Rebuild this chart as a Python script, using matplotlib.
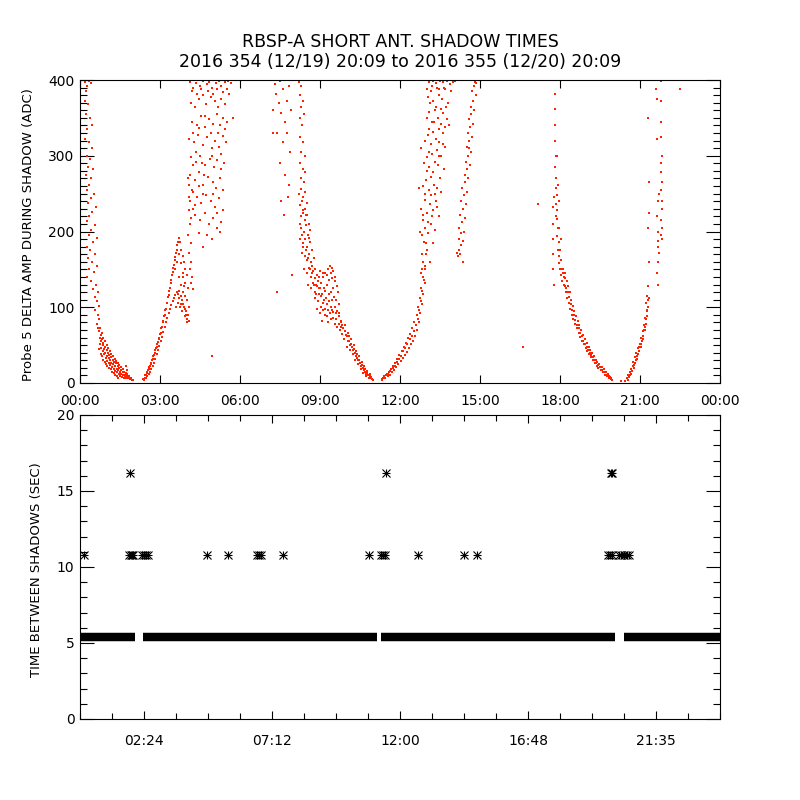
import numpy as np
import matplotlib
matplotlib.use('Agg')
import matplotlib.pyplot as plt
from matplotlib.ticker import MultipleLocator

plt.rcParams['font.family'] = ['DejaVu Sans']

title_1 = 'RBSP-A SHORT ANT. SHADOW TIMES'
title_2 = '2016 354 (12/19) 20:09 to 2016 355 (12/20) 20:09'

# top panel: probe 5 delta amp during shadow, (hours from start, ADC)
shadow_a_upper = [(0.19,398),(0.22,385),(0.28,392),(0.35,399),(0.42,396),(0.2,372),(0.3,368),(0.24,355),
    (0.38,350),(0.44,340),(0.27,335),(0.2,322),(0.33,318),(0.45,310),(0.25,300),(0.38,296),(0.3,285),
    (0.5,282),(0.22,275),(0.42,270),(0.34,262),(0.28,255),(0.52,250),(0.4,244),(0.3,238),(0.6,232),
    (0.45,226),(0.35,220),(0.27,214),(0.55,208),(0.4,202),(0.32,196),(0.62,192),(0.48,186),(0.27,180),
    (0.38,175),(0.58,170),(0.3,165),(0.45,160),(0.62,155),(0.35,150),(0.52,146),(0.28,140),(0.42,134),
    (0.6,130),(0.48,124),(0.66,120),(0.55,114),(0.62,108),(0.7,102),(0.58,96),(0.67,90),(0.72,84),
    (0.63,78),(0.69,73)]
shadow_a_lower = [(0.72,68),(0.75,60),(0.74,52),(0.78,64),(0.8,55),(0.8,46),(0.83,58),(0.85,50),(0.85,42),
    (0.88,53),(0.9,45),(0.9,38),(0.93,48),(0.95,40),(0.96,33),(1.0,44),(1.0,36),(1.02,29),(1.05,40),
    (1.07,33),(1.08,26),(1.1,37),(1.12,30),(1.14,24),(1.17,34),(1.18,27),(1.2,21),(1.22,31),(1.25,25),
    (1.26,18),(1.29,28),(1.3,22),(1.32,16),(1.35,26),(1.37,19),(1.38,14),(1.41,23),(1.43,17),(1.45,12),
    (1.47,20),(1.49,14),(1.5,9),(1.53,17),(1.55,12),(1.57,8),(1.6,14),(1.62,10),(1.64,7),(1.67,11),
    (1.7,8),(1.72,6),(1.74,22),(1.75,17),(1.76,12),(1.77,8),(1.8,6),(1.83,9),(1.86,5),(1.9,5),(1.95,4),
    (1.99,4),(0.73,45),(0.77,38),(0.82,35),(0.87,30),(0.92,28),(0.97,25),(1.03,22),(1.09,20),(1.15,18),
    (1.21,15),(1.27,13),(1.33,11),(1.39,9),(1.44,7),(0.76,72),(0.82,66),(0.88,60),(0.94,55),(1.0,50),
    (1.06,46),(1.12,42),(1.18,38),(1.24,35),(1.3,32),(1.36,29),(1.42,26),(1.48,24),(1.54,21),(1.6,18),
    (1.66,15),(1.72,13),(1.78,11),(1.84,7),(1.92,6)]
shadow_b_rise = [(2.37,5),(2.42,7),(2.45,10),(2.48,6),(2.5,13),(2.53,9),(2.55,17),(2.58,12),(2.6,21),
    (2.62,15),(2.65,25),(2.67,19),(2.7,30),(2.72,23),(2.75,35),(2.77,27),(2.8,40),(2.82,32),(2.85,46),
    (2.87,38),(2.9,52),(2.92,43),(2.95,58),(2.97,49),(3.0,65),(3.02,55),(3.05,72),(3.07,61),(3.1,80),
    (3.12,67),(3.15,88),(3.17,74),(3.2,96),(3.22,80),(3.25,105),(3.27,86),(3.3,114),(3.32,92),(3.35,122),
    (3.37,98),(3.4,132),(3.42,103),(3.45,142),(3.47,108),(3.5,152),(3.52,112),(3.55,162),(3.57,116),
    (3.6,172),(3.62,120),(3.65,182),(3.67,118),(3.7,192),(3.72,122),(3.75,186),(3.77,115),(3.8,176),
    (3.82,110),(3.85,168),(3.87,104),(3.9,160),(3.92,98),(3.95,150),(3.97,90),(4.0,142),(4.02,84),
    (3.58,150),(3.65,160),(3.72,170),(3.8,158),(3.88,145),(3.95,132),(4.05,125),(3.7,140),(3.78,130),
    (3.85,120),(4.0,110),(4.08,100),(3.6,100),(3.68,105),(3.76,100),(3.84,95),(3.92,88),(4.0,80),
    (2.4,4),(2.47,11),(2.52,15),(2.57,19),(2.63,23),(2.68,27),(2.73,32),(2.78,37),(2.83,43),(2.88,48),
    (2.93,54),(2.98,60),(3.03,66),(3.08,74),(3.13,82),(3.18,90),(3.23,98),(3.28,106),(3.33,116),
    (3.38,126),(3.43,136),(3.48,146),(3.53,156),(3.58,166),(3.63,176),(3.68,186),(3.85,140),(3.9,128),
    (3.95,115),(3.7,112),(3.8,104),(3.9,100),(3.98,95),(4.05,90),(4.1,82)]
shadow_b_bridge = [(4.05,270),(4.08,245),(4.1,228),(4.12,210),(4.06,196),(4.15,185),(4.1,172),(4.18,160),
    (4.12,150),(4.2,140),(4.15,132),(4.22,124),(4.08,262),(4.2,255),(4.14,240),(4.25,230),(4.18,218)]
shadow_c_scatter = [(4.12,398),(4.2,385),(4.35,396),(4.5,392),(4.62,399),(4.75,395),(4.85,398),(4.95,390),
    (5.1,396),(5.2,399),(5.3,392),(5.42,397),(5.55,399),(5.68,396),(4.15,370),(4.3,365),(4.45,375),
    (4.6,380),(4.72,368),(4.9,377),(5.05,372),(5.18,365),(5.3,375),(5.45,368),(5.6,382),(4.2,345),
    (4.38,340),(4.55,352),(4.68,338),(4.82,348),(5.0,342),(5.12,355),(5.25,340),(5.38,350),(5.5,345),
    (4.1,322),(4.28,318),(4.42,328),(4.6,314),(4.78,325),(4.95,310),(5.08,320),(5.22,312),(5.35,326),
    (5.48,318),(4.18,298),(4.35,292),(4.5,300),(4.7,288),(4.88,296),(5.02,285),(5.15,295),(5.28,282),
    (5.4,290),(4.12,275),(4.3,268),(4.48,278),(4.62,262),(4.8,272),(4.98,265),(5.1,258),(5.25,270),
    (5.38,255),(4.22,252),(4.4,245),(4.55,238),(4.72,248),(4.9,240),(5.05,232),(5.2,244),(5.35,228),
    (4.32,222),(4.5,215),(4.68,225),(4.85,210),(5.0,218),(5.15,205),(5.3,212),(4.45,198),(4.75,196),
    (4.95,190),(5.25,200),(4.6,180),(5.74,350),(4.95,36),(4.25,390),(4.4,382),(4.55,388),(4.8,385),
    (5.0,382),(5.15,388),(5.35,384),(5.5,388),(4.25,330),(4.48,336),(4.7,352),(4.9,330),(5.18,330),
    (5.42,335),(4.35,305),(4.58,290),(4.95,300),(5.3,302),(4.25,288),(4.65,275),(5.0,250),(4.45,260),
    (4.3,235),(4.6,250),(5.12,225)]
shadow_d_sparse = [(7.22,360),(7.3,395),(7.35,382),(7.45,370),(7.5,399),(7.55,356),(7.62,388),(7.7,345),
    (7.75,372),(7.82,392),(7.9,360),(7.4,330),(7.6,318),(7.78,330),(7.88,305),(7.5,290),(7.7,275),
    (7.85,262),(7.55,240),(7.8,246),(7.65,222),(7.37,120),(7.95,143),(7.25,330)]
shadow_d_top = [(8.22,398),(8.25,380),(8.3,392),(8.28,365),(8.35,372),(8.24,350),(8.32,340),(8.4,355),
    (8.26,325),(8.36,318),(8.3,305),(8.42,300),(8.25,290),(8.35,282),(8.28,270),(8.4,265),(8.45,278)]
shadow_d_mid = [(8.22,250),(8.3,256),(8.38,245),(8.45,252),(8.25,235),(8.33,240),(8.42,230),(8.5,238),
    (8.28,220),(8.36,225),(8.44,215),(8.52,222),(8.58,210),(8.3,205),(8.4,200),(8.48,208),(8.56,196),
    (8.64,202),(8.26,190),(8.35,185),(8.45,190),(8.53,180),(8.62,186),(8.7,175),(8.32,172),(8.42,168),
    (8.5,162),(8.6,170),(8.68,160),(8.76,165),(8.4,150),(8.5,145),(8.58,152),(8.66,140),(8.74,148),
    (8.82,138),(8.55,130),(8.65,125),(8.72,132),(8.8,120),(8.88,128),(8.95,118),(8.25,210),(8.32,195),
    (8.38,180),(8.46,175),(8.55,165),(8.62,150),(8.7,145),(8.78,130),(8.86,118),(8.35,228),(8.48,222),
    (8.6,192),(8.7,155)]
shadow_d_low = [(8.8,150),(8.9,142),(9.0,148),(9.1,140),(9.2,145),(9.3,150),(9.38,155),(9.45,152),(9.5,148),
    (8.85,130),(8.95,126),(9.05,132),(9.15,125),(9.25,130),(9.35,136),(9.45,138),(9.55,134),(9.62,128),
    (8.82,112),(8.92,108),(9.02,115),(9.12,105),(9.22,112),(9.32,118),(9.42,120),(9.52,114),(9.6,110),
    (9.7,104),(8.9,98),(9.0,92),(9.1,96),(9.2,90),(9.3,96),(9.4,100),(9.5,94),(9.6,92),(9.7,88),
    (9.78,82),(9.3,80),(9.4,85),(9.55,78),(9.65,74),(9.75,70),(9.45,110),(9.68,120),(9.58,140),
    (9.2,122),(9.08,82),(8.92,135),(9.0,125),(9.08,118),(9.15,110),(9.25,104),(9.35,108),(9.45,96),
    (9.55,100),(9.65,95),(9.72,92),(9.05,100),(9.18,98),(9.28,88),(9.38,92),(9.48,86),(9.6,84),
    (9.7,78),(9.8,74),(8.95,140),(9.12,145),(9.28,142),(9.4,145),(9.5,125)]
shadow_d_tail = [(9.8,80),(9.82,65),(9.88,72),(9.9,58),(9.95,76),(10.0,62),(10.02,48),(10.06,66),(10.1,55),
    (10.12,44),(10.16,58),(10.2,48),(10.22,38),(10.26,50),(10.3,40),(10.32,31),(10.36,42),(10.4,33),
    (10.42,25),(10.46,35),(10.5,26),(10.52,18),(10.56,28),(10.6,20),(10.62,13),(10.66,22),(10.7,15),
    (10.72,9),(10.76,16),(10.8,10),(10.84,7),(10.88,12),(10.9,6),(10.95,5),(11.0,4),(9.84,76),(9.92,68),
    (9.98,64),(10.04,56),(10.1,62),(10.14,50),(10.18,52),(10.24,44),(10.28,45),(10.34,36),(10.38,38),
    (10.44,30),(10.48,31),(10.54,23),(10.58,24),(10.64,17),(10.68,18),(10.74,12),(10.78,13),(10.86,9),
    (10.93,8)]
shadow_e_rise = [(11.31,5),(11.36,6),(11.4,9),(11.45,7),(11.5,12),(11.54,9),(11.58,15),(11.62,11),(11.66,19),
    (11.7,14),(11.74,23),(11.78,17),(11.82,27),(11.86,21),(11.9,32),(11.94,25),(11.98,37),(12.02,29),
    (12.06,42),(12.1,33),(12.14,47),(12.18,37),(12.22,53),(12.26,41),(12.3,59),(12.34,46),(12.38,65),
    (12.42,51),(12.46,72),(12.5,56),(12.54,80),(12.58,62),(12.62,90),(12.64,70),(12.68,100),(12.7,80),
    (12.74,112),(12.76,92),(12.8,125),(12.82,104),(12.86,140),(12.88,118),(12.92,155),(12.94,132),
    (12.96,170),(12.9,186),(11.33,4),(11.42,6),(11.48,10),(11.56,12),(11.64,16),(11.72,20),(11.8,23),
    (11.88,28),(11.96,32),(12.04,36),(12.12,42),(12.2,46),(12.28,52),(12.36,58),(12.44,62),(12.52,68),
    (12.6,76),(12.66,85),(12.72,96),(12.78,108),(12.84,122),(12.9,136),(12.94,150),(12.98,185),
    (12.88,160),(12.82,150)]
shadow_e_scatter = [(12.75,200),(12.85,215),(12.95,205),(13.05,198),(13.15,210),(13.3,202),(12.8,230),
    (12.92,242),(13.02,225),(13.12,236),(13.22,228),(13.35,240),(13.45,220),(12.85,260),(12.98,268),
    (13.08,255),(13.18,272),(13.28,262),(13.4,258),(13.5,270),(12.9,290),(13.0,298),(13.1,285),
    (13.2,302),(13.32,292),(13.42,288),(13.55,300),(12.95,320),(13.05,328),(13.15,315),(13.25,332),
    (13.35,322),(13.48,318),(13.6,330),(13.7,312),(13.0,350),(13.1,358),(13.2,345),(13.3,360),
    (13.42,350),(13.52,342),(13.62,356),(13.75,348),(13.05,378),(13.15,385),(13.25,372),(13.38,390),
    (13.48,380),(13.58,375),(13.7,388),(13.8,370),(13.1,398),(13.22,399),(13.35,396),(13.5,399),
    (13.62,397),(13.75,399),(13.88,395),(14.0,398),(14.08,399),(13.12,160),(13.0,175),(12.82,170),
    (12.78,145),(13.25,185),(12.72,258),(12.78,310),(13.85,340),(13.66,282),(13.38,232),(13.55,252),
    (13.0,388),(13.2,392),(13.45,388),(13.65,390),(13.9,385),(13.12,370),(13.35,365),(13.55,362),
    (13.72,365),(13.08,335),(13.28,345),(13.45,335),(13.68,338),(13.1,305),(13.38,308),(13.6,315),
    (13.02,280),(13.25,278),(13.45,300),(12.92,250),(13.15,248),(13.3,250),(12.88,222),(13.05,212),
    (13.2,220),(12.82,195)]
shadow_f = [(14.18,168),(14.22,176),(14.26,170),(14.3,182),(14.2,190),(14.28,198),(14.35,188),(14.22,205),
    (14.32,212),(14.4,200),(14.26,222),(14.36,230),(14.44,218),(14.3,240),(14.4,248),(14.48,236),
    (14.34,258),(14.45,265),(14.52,252),(14.42,275),(14.5,282),(14.56,270),(14.48,292),(14.55,300),
    (14.62,288),(14.52,312),(14.6,320),(14.66,305),(14.55,330),(14.64,338),(14.7,325),(14.6,348),
    (14.68,355),(14.74,342),(14.66,365),(14.72,372),(14.78,360),(14.7,385),(14.78,392),(14.84,380),
    (14.8,398),(14.86,396),(14.6,310),(14.12,172),(14.35,160)]
shadow_lone = [(16.63,48),(17.19,236),(22.5,388)]
shadow_g_top = [(17.72,232),(17.74,210),(17.73,190),(17.75,170),(17.74,150),(17.76,130),(17.78,245),
    (17.8,382),(17.82,362),(17.83,340),(17.8,320),(17.84,300),(17.82,285),(17.86,270),(17.84,258),
    (17.88,248),(17.86,236),(17.9,228),(17.88,216),(17.92,205),(17.9,194),(17.95,186),(17.93,175),
    (17.98,168),(17.96,158),(18.0,150),(18.04,162),(18.03,142),(18.07,135),(18.06,150),(17.85,220),
    (17.95,205),(18.0,176),(17.92,262),(17.87,300),(18.02,190),(18.1,145),(17.98,240)]
shadow_g_band = [(18.12,150),(18.15,140),(18.18,128),(18.2,145),(18.22,120),(18.25,135),(18.28,112),
    (18.3,128),(18.33,106),(18.36,120),(18.38,98),(18.42,110),(18.45,90),(18.48,102),(18.5,84),
    (18.54,95),(18.57,78),(18.6,88),(18.63,72),(18.67,82),(18.7,66),(18.73,76),(18.76,61),(18.8,70),
    (18.83,56),(18.86,64),(18.9,51),(18.93,58),(18.96,46),(19.0,53),(19.03,42),(19.07,48),(19.1,38),
    (19.14,43),(19.17,34),(19.2,39),(19.24,30),(19.27,35),(19.3,27),(19.34,31),(19.37,23),(19.4,28),
    (19.44,20),(19.48,25),(19.52,17),(19.56,21),(19.6,14),(19.64,18),(19.68,11),(19.72,15),(19.76,9),
    (19.8,12),(19.84,7),(19.88,8),(19.92,5),(19.95,4),(18.14,130),(18.19,138),(18.24,125),(18.29,120),
    (18.34,114),(18.4,104),(18.46,97),(18.52,90),(18.58,83),(18.64,77),(18.7,72),(18.76,66),(18.82,62),
    (18.88,56),(18.94,52),(19.0,47),(19.06,43),(19.12,39),(19.18,37),(19.24,34),(19.3,31),(19.36,27),
    (19.42,24),(19.5,21),(19.58,17),(19.66,14),(19.74,11),(19.82,9),(19.9,6)]
shadow_h_rise = [(20.27,2),(20.45,2),(20.52,6),(20.56,10),(20.6,8),(20.64,14),(20.68,18),(20.66,12),
    (20.72,22),(20.75,28),(20.78,24),(20.8,34),(20.84,30),(20.86,40),(20.9,36),(20.92,46),(20.96,42),
    (21.0,52),(21.02,48),(21.05,60),(21.08,56),(21.1,68),(21.12,62),(21.15,76),(21.18,70),(21.2,86),
    (21.22,78),(21.25,95),(21.24,105),(21.28,88),(21.3,100),(21.32,112),(20.55,4),(20.62,11),(20.7,16),
    (20.76,20),(20.82,26),(20.88,32),(20.94,38),(20.98,48),(21.04,52),(21.1,58),(21.14,70),(21.2,74),
    (21.24,84),(21.28,96),(21.3,110),(21.27,115)]
shadow_h_sparse = [(21.3,350),(21.31,205),(21.32,225),(21.33,160),(21.3,128),(21.34,265),(21.6,388),
    (21.62,375),(21.64,322),(21.66,240),(21.65,220),(21.67,200),(21.66,180),(21.68,160),(21.65,145),
    (21.67,130),(21.7,250),(21.78,399),(21.8,372),(21.79,345),(21.8,325),(21.82,300),(21.78,290),
    (21.8,278),(21.83,265),(21.79,255),(21.81,240),(21.84,230),(21.78,215),(21.82,205),(21.8,195),
    (21.83,190),(21.68,188),(21.7,172)]

top_ticks = [0, 3, 6, 9, 12, 15, 18, 21, 24]
top_labels = ['00:00', '03:00', '06:00', '09:00', '12:00', '15:00', '18:00', '21:00', '00:00']

# bottom panel: time between shadows (sec)
gap_normal = 5.4
band_start = [0.0, 2.35, 11.3, 20.4]
band_end = [2.06, 11.13, 20.06, 24.0]
double_t = [0.15, 1.82, 1.9, 1.95, 2.0, 2.32, 2.4, 2.48, 2.55, 4.75, 5.56, 6.63, 6.7, 6.78, 7.6,
            10.84, 11.3, 11.38, 11.45, 12.68, 14.4, 14.9, 19.8, 19.87, 19.95, 20.2, 20.3, 20.4,
            20.5, 20.6]
double_v = 10.8
triple_t = [1.875, 11.46, 19.92, 19.96]
triple_v = 16.2
bottom_ticks = [2.4, 7.2, 12.0, 16.8, 21.6]
bottom_labels = ['02:24', '07:12', '12:00', '16:48', '21:35']

all_shadow = (shadow_a_upper + shadow_a_lower + shadow_b_rise + shadow_b_bridge + shadow_c_scatter
              + shadow_d_sparse + shadow_d_top + shadow_d_mid + shadow_d_low + shadow_d_tail
              + shadow_e_rise + shadow_e_scatter + shadow_f + shadow_lone + shadow_g_top
              + shadow_g_band + shadow_h_rise + shadow_h_sparse)
pts = np.array(all_shadow, dtype=float)

fig = plt.figure(figsize=(8, 8), dpi=100)
ax1 = fig.add_axes([0.1, 0.52125, 0.8, 0.37875])
ax2 = fig.add_axes([0.1, 0.10125, 0.8, 0.38])

ax1.plot(pts[:, 0], pts[:, 1], 's', ms=2.0, mew=0, color='#ff2200')
ax1.set_xlim(0, 24)
ax1.set_ylim(0, 400)
ax1.set_xticks(top_ticks)
ax1.set_xticklabels(top_labels)
ax1.yaxis.set_major_locator(MultipleLocator(100))
ax1.yaxis.set_minor_locator(MultipleLocator(10))
ax1.set_ylabel('Probe 5 DELTA AMP DURING SHADOW (ADC)', fontsize=9.5)
ax1.yaxis.set_label_coords(-0.07, 0.49)

for x0, x1 in zip(band_start, band_end):
    ax2.hlines(gap_normal, x0, x1, colors='black', lw=6.1)
for mk in ['+', 'x']:
    ax2.plot(double_t, [double_v] * len(double_t), mk, ms=6, mew=0.8, color='black', ls='none')
    ax2.plot(triple_t, [triple_v] * len(triple_t), mk, ms=6, mew=0.8, color='black', ls='none')
ax2.set_xlim(0, 24)
ax2.set_ylim(0, 20)
ax2.set_xticks(bottom_ticks)
ax2.set_xticklabels(bottom_labels)
ax2.xaxis.set_minor_locator(MultipleLocator(1.2))
ax2.yaxis.set_major_locator(MultipleLocator(5))
ax2.yaxis.set_minor_locator(MultipleLocator(1))
ax2.set_ylabel('TIME BETWEEN SHADOWS (SEC)', fontsize=9.5)
ax2.yaxis.set_label_coords(-0.058, 0.49)

for ax in (ax1, ax2):
    for s in ax.spines.values():
        s.set_linewidth(0.8)
    ax.tick_params(which='both', direction='in', top=True, right=True, width=0.8, labelsize=10)
    ax.tick_params(axis='y', which='major', length=10, pad=4)
    ax.tick_params(axis='y', which='minor', length=5)
    ax.tick_params(axis='x', which='major', length=6)
    ax.tick_params(axis='x', which='minor', length=4)
    ylab = ax.get_yticklabels()
    ylab[0].set_verticalalignment('bottom')
    ylab[-1].set_verticalalignment('top')
ax1.tick_params(axis='x', pad=8)
ax2.tick_params(axis='x', pad=11)

fig.text(0.5, 0.948, title_1, ha='center', va='center', fontsize=12.5)
fig.text(0.5, 0.923, title_2, ha='center', va='center', fontsize=12.5)

fig.savefig('out.png', dpi=100, facecolor='white')
